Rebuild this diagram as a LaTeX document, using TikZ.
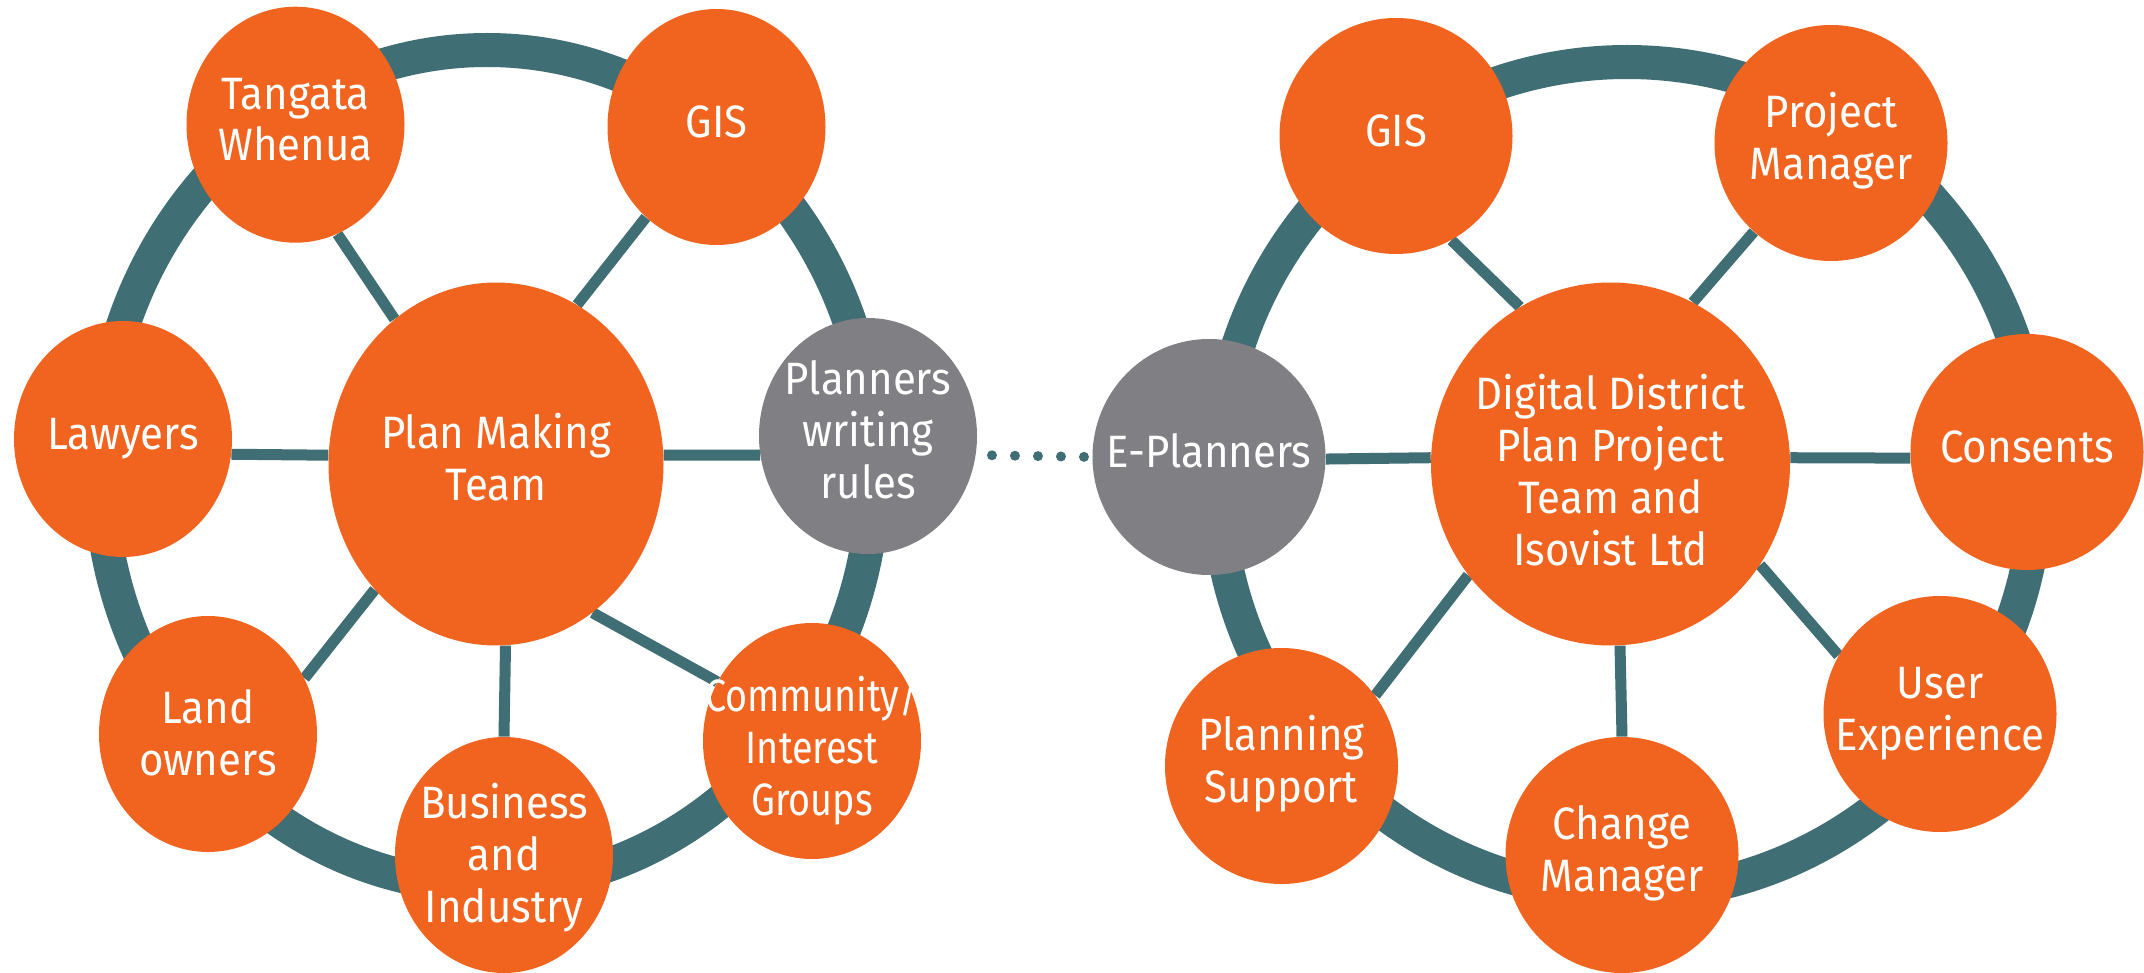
\documentclass[tikz,border=0pt]{standalone}
\usepackage{fontspec}
\setmainfont{Fira Sans}
\usepackage{graphicx}
\usetikzlibrary{shapes.geometric}
\definecolor{orng}{HTML}{F0641F}
\definecolor{ringteal}{HTML}{3F6E74}
\definecolor{greyc}{HTML}{808084}
\pgfdeclarelayer{bg}
\pgfdeclarelayer{paper}
\pgfsetlayers{paper,bg,main}
% #1 extra downward shift, #2 horizontal scale, #3 text
\newcommand\dlab[3]{\makebox[0pt]{\raisebox{\dimexpr-#1\relax}[\height][\depth]{\scalebox{#2}[1.08]{\renewcommand\arraystretch{1}\begin{tabular}{@{}c@{}}#3\end{tabular}}}}}
\newcommand\dlabel[1]{\dlab{0pt}{1}{#1}}
\begin{document}
\begin{tikzpicture}[x=0.5pt,y=-0.5pt,
  bubble/.style={ellipse, fill=orng, inner sep=0pt, text=white,
     font=\fontsize{21}{24}\selectfont},
  satL/.style={bubble, minimum width=109pt, minimum height=118pt},
  satR/.style={bubble, minimum width=116.5pt, minimum height=118pt},
  hub/.style={bubble, minimum height=181.5pt},
  greyb/.style={fill=greyc},
  ring/.style={draw=ringteal, line width=17pt},
  spoke/.style={draw=ringteal, line width=5.5pt},
  dotline/.style={draw=ringteal, line width=5pt, line cap=round,
     dash pattern=on 0pt off 11.5pt, shorten <=8pt, shorten >=4pt}]
\begin{pgfonlayer}{paper}
\fill[white] (0,0) rectangle (2144,973);
\end{pgfonlayer}
\useasboundingbox (0,0) rectangle (2144,973);

% left group
\node[hub, minimum width=167.5pt] (pmt) at (496,464) {\dlabel{Plan Making\\Team}};
\node[satL] (tw) at (295.5,124.7) {\dlabel{Tangata\\Whenua}};
\node[satL] (gisL) at (716.5,127) {\dlabel{GIS}};
\node[satL] (law) at (123,439) {\dlabel{Lawyers}};
\node[satL, greyb] (pwr) at (868,436) {\dlabel{Planners\\writing\\rules}};
\node[satL] (lo) at (208,734) {\dlab{2.5pt}{1}{Land\\owners}};
\node[satL] (bi) at (504,855) {\dlab{2.5pt}{1}{Business\\and\\Industry}};
\node[satL] (cig) at (812,741) {\dlab{6pt}{0.9}{Community/\\Interest\\Groups}};

% right group
\node[hub, minimum width=179.5pt] (dd) at (1610.5,464) {\dlab{6.5pt}{1}{Digital District\\Plan Project\\Team and\\Isovist Ltd}};
\node[satR] (gisR) at (1396,136) {\dlabel{GIS}};
\node[satR] (pm) at (1831,143) {\dlabel{Project\\Manager}};
\node[satR] (cons) at (2027,452) {\dlabel{Consents}};
\node[satR] (ux) at (1940,714) {\dlabel{User\\Experience}};
\node[satR] (cm) at (1622,855) {\dlabel{Change\\Manager}};
\node[satR] (ps) at (1281.5,766) {\dlabel{Planning\\Support}};
\node[satR, greyb] (ep) at (1209,457) {\dlabel{E-Planners}};

\begin{pgfonlayer}{bg}
\draw[ring] (487,468) ellipse [x radius=387, y radius=418];
\draw[ring] (1627,478) ellipse [x radius=410, y radius=416];
\draw[spoke] (pmt.125) -- (tw.-69);
\draw[spoke] (pmt.63) -- (gisL.-128);
\draw[spoke] (pmt.177) -- (law.-8);
\draw[spoke] (pmt.3) -- (pwr.190);
\draw[spoke] (pmt.226) -- (lo.30);
\draw[spoke] (pmt.-87) -- (bi.90);
\draw[spoke] (pmt.-57) -- (cig.148);
\draw[spoke] (dd.120) -- (gisR.-62);
\draw[spoke] (dd.63) -- (pm.-131);
\draw[spoke] (dd.178) -- (ep.-1);
\draw[spoke] (dd.2) -- (cons.183);
\draw[spoke] (dd.-34.5) -- (ux.150);
\draw[spoke] (dd.-87) -- (cm.90);
\draw[spoke] (dd.218) -- (ps.37.5);
\draw[dotline] (pwr.-10) -- (ep.180);
\end{pgfonlayer}
\end{tikzpicture}
\end{document}
